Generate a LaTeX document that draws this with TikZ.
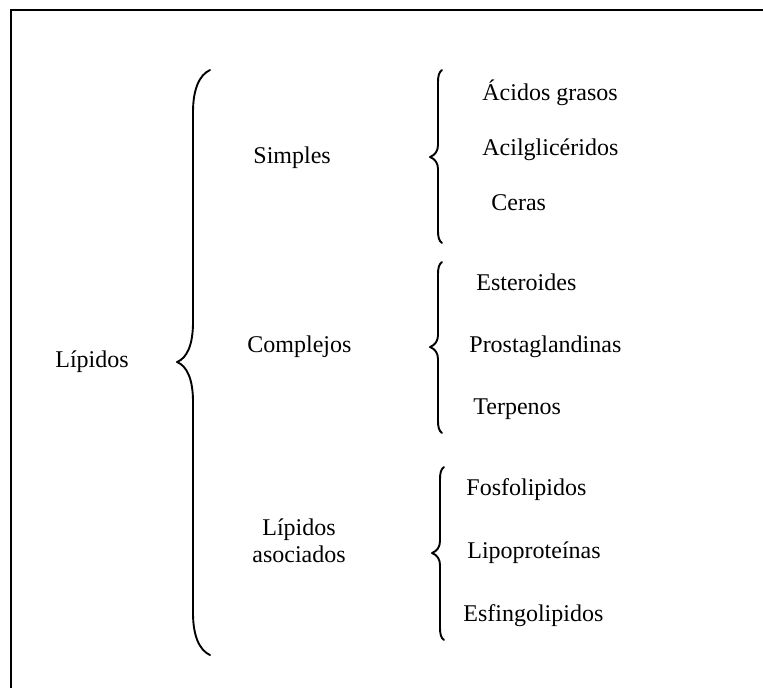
\documentclass[tikz,border=0pt]{standalone}
\usepackage{fontspec}
\setmainfont{Liberation Serif}
\begin{document}
\begin{tikzpicture}[x=0.5pt,y=-0.5pt,
  lbl/.style={anchor=base west,inner sep=0pt,font=\fontsize{12pt}{14pt}\selectfont},
  clbl/.style={anchor=base,inner sep=0pt,font=\fontsize{12pt}{14pt}\selectfont},
  bracestroke/.style={line width=0.95pt,line cap=round,line join=round},
  frame/.style={line width=1pt}]
\useasboundingbox (0,0) rectangle (763,687);
\begin{scope}
  \clip (0,0) rectangle (763,687);
  \draw[frame] (11,10) rectangle (800,720);
\end{scope}

% main brace
\draw[bracestroke] (210,70) .. controls (199,75) and (193,90) .. (193,112)
  -- (193,322) .. controls (193,345) and (187,358) .. (177,362)
  .. controls (187,366) and (193,379) .. (193,402)
  -- (193,613) .. controls (193,635) and (199,650) .. (210,655);

% sub-braces
\foreach \t/\m/\b/\dx in {70/157/243/0, 262/347/433/0, 467/553/640/2}{
  \draw[bracestroke,xshift=\dx*0.5pt] (442,\t) .. controls (439,\t+2) and (438,\t+6) .. (438,\t+12)
    -- (438,\m-12) .. controls (438,\m-6) and (435,\m-2) .. (430,\m)
    .. controls (435,\m+2) and (438,\m+6) .. (438,\m+12)
    -- (438,\b-12) .. controls (438,\b-6) and (439,\b-2) .. (442,\b);
}

% labels
\node[lbl] (lip) at (55,367) {Lípidos};
\node[lbl] (simp) at (253,163) {Simples};
\node[lbl] (comp) at (247,352) {Complejos};
\node[clbl] (aso1) at (299,535) {Lípidos};
\node[clbl] (aso2) at (299,562) {asociados};

\node[lbl] (acg) at (482,100) {Ácidos grasos};
\node[lbl] (acil) at (482,155) {Acilglicéridos};
\node[lbl] (cer) at (491,210) {Ceras};
\node[lbl] (est) at (476,290) {Esteroides};
\node[lbl] (pro) at (469,352) {Prostaglandinas};
\node[lbl] (ter) at (473,414) {Terpenos};
\node[lbl] (fos) at (466,495) {Fosfolipidos};
\node[lbl] (lpp) at (467,558) {Lipoproteínas};
\node[lbl] (esf) at (463,621) {Esfingolipidos};
\end{tikzpicture}
\end{document}
